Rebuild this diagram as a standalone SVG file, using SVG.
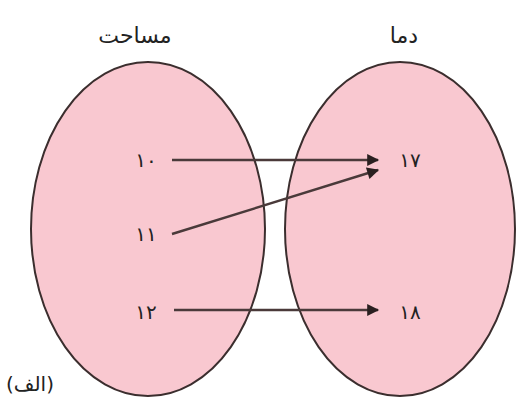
<svg xmlns="http://www.w3.org/2000/svg" width="521" height="398" viewBox="0 0 521 398">
<defs>
<style>
.set{fill:#f9c8d0;stroke:#3b2e2e;stroke-width:2}
.t{font-family:"DejaVu Sans",sans-serif;fill:#222;text-anchor:middle}
.lbl{font-size:22px}
.num{font-size:20px}
.arr{stroke:#4a3a3a;stroke-width:2.4;fill:none;marker-end:url(#ah)}
</style>
<marker id="ah" viewBox="0 0 10 10" refX="9" refY="5" markerWidth="5.5" markerHeight="5" orient="auto" markerUnits="strokeWidth">
<path d="M0,0 L10,5 L0,10 z" fill="#2a2020"/>
</marker>
</defs>
<rect width="521" height="398" fill="#fff"/>
<g id="setA">
<ellipse class="set" cx="148" cy="229" rx="117" ry="167"/>
<text class="t lbl" x="135" y="43" direction="rtl">مساحت</text>
</g>
<g id="setB">
<ellipse class="set" cx="400" cy="229" rx="115" ry="167"/>
<text class="t lbl" x="404" y="43" direction="rtl">دما</text>
</g>
<g id="n10"><text class="t num" x="146" y="167">۱۰</text></g>
<g id="n11"><text class="t num" x="146" y="241">۱۱</text></g>
<g id="n12"><text class="t num" x="146" y="319">۱۲</text></g>
<g id="n17"><text class="t num" x="410" y="167">۱۷</text></g>
<g id="n18"><text class="t num" x="410" y="319">۱۸</text></g>
<g id="connectors">
<line class="arr" x1="172" y1="160" x2="378" y2="160"/>
<line class="arr" x1="172" y1="234" x2="378" y2="170"/>
<line class="arr" x1="174" y1="310" x2="378" y2="310"/>
</g>
<g id="caption"><text class="t" style="font-size:20px" x="30" y="391" direction="rtl">(الف)</text></g>
</svg>
